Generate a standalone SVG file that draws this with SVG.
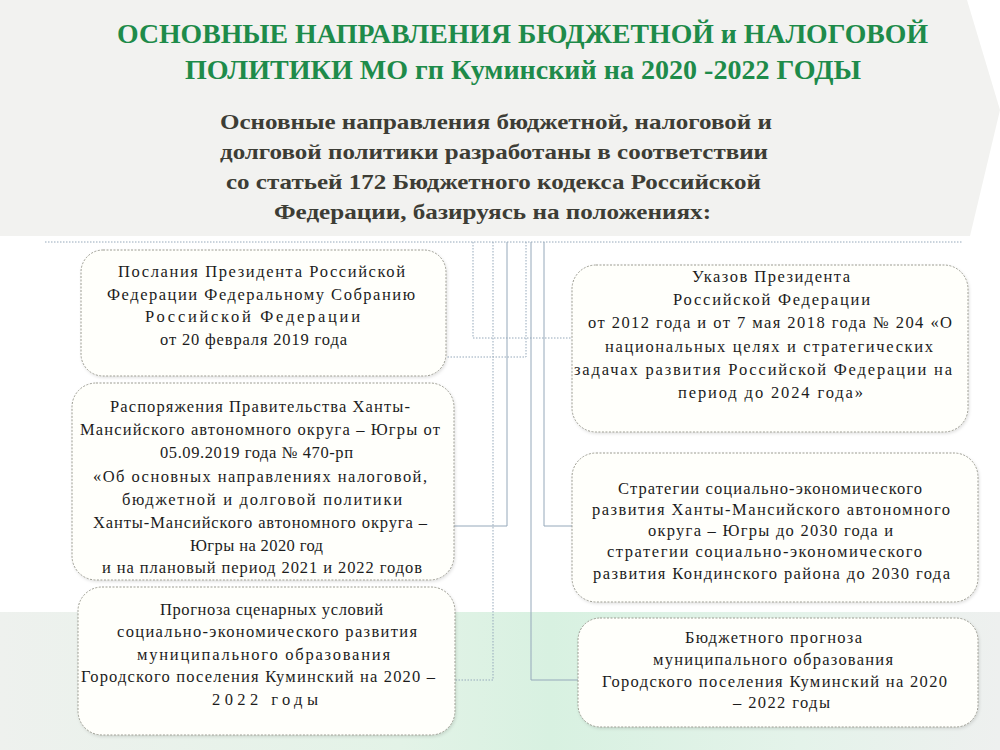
<svg xmlns="http://www.w3.org/2000/svg" width="1000" height="750" viewBox="0 0 1000 750">
<defs>
<linearGradient id="band" x1="0" y1="0" x2="1" y2="0">
<stop offset="0" stop-color="#eef1ee"/>
<stop offset="0.4" stop-color="#e3f3e7"/>
<stop offset="0.55" stop-color="#d8f1e1"/>
<stop offset="0.8" stop-color="#e4f3ea"/>
<stop offset="1" stop-color="#eef0ef"/>
</linearGradient>
<filter id="sh" x="-5%" y="-5%" width="110%" height="115%">
<feDropShadow dx="1" dy="1.5" stdDeviation="1.5" flood-color="#000" flood-opacity="0.12"/>
</filter>
<style>
.box{fill:#fffffb;stroke:#9c9c92;stroke-width:1;stroke-dasharray:2 1.5;filter:url(#sh)}
.t{font-family:"Liberation Serif","Times New Roman",serif;font-size:16.5px;fill:#1c1c1c}
.title{font-family:"Liberation Serif","Times New Roman",serif;font-weight:bold;font-size:27px;fill:#1e8b4a}
.sub{font-family:"Liberation Serif","Times New Roman",serif;font-weight:bold;font-size:21px;fill:#3d3d35}
.c{fill:none;stroke:#95a8ba;stroke-width:1}
.cd{stroke-dasharray:1.5 1.5}
</style>
</defs>
<rect x="0" y="0" width="1000" height="750" fill="#ffffff"/>
<polygon points="0,0 967,0 1000,110 970,236 0,236" fill="#f2f2f0"/>
<rect x="0" y="612" width="1000" height="138" fill="url(#band)"/>

<g id="header">
<text class="title" x="117" y="43" textLength="811" lengthAdjust="spacingAndGlyphs">ОСНОВНЫЕ НАПРАВЛЕНИЯ БЮДЖЕТНОЙ и НАЛОГОВОЙ</text>
<text class="title" x="185" y="79" textLength="676" lengthAdjust="spacingAndGlyphs">ПОЛИТИКИ  МО гп Куминский на 2020 -2022 ГОДЫ</text>
<text class="sub" x="220" y="129" textLength="552" lengthAdjust="spacingAndGlyphs">Основные направления бюджетной, налоговой и</text>
<text class="sub" x="220" y="159" textLength="548" lengthAdjust="spacingAndGlyphs">долговой политики разработаны в соответствии</text>
<text class="sub" x="226" y="189" textLength="535" lengthAdjust="spacingAndGlyphs">со статьей 172 Бюджетного кодекса Российской</text>
<text class="sub" x="274" y="219" textLength="437" lengthAdjust="spacingAndGlyphs">Федерации, базируясь на положениях:</text>
</g>

<g id="connectors">
<path class="c cd" d="M45,242 H962"/>
<path class="c cd" d="M473,242 V338 H572"/>
<path class="c cd" d="M493,242 V680 H455"/>
<path class="c" d="M507,242 V526 H454"/>
<path class="c cd" d="M526,242 V357 H446"/>
<path class="c" d="M531,242 V680 H578"/>
<path class="c" d="M544,242 V526 H572"/>
</g>

<g id="node1">
<rect class="box" x="81" y="250" width="365" height="126" rx="22"/>
<text class="t" x="118" y="277" textLength="287" lengthAdjust="spacing">Послания Президента Российской</text>
<text class="t" x="107" y="300" textLength="308" lengthAdjust="spacing">Федерации Федеральному Собранию</text>
<text class="t" x="145" y="322" textLength="215" lengthAdjust="spacing">Российской Федерации</text>
<text class="t" x="160" y="345" textLength="187" lengthAdjust="spacing">от  20 февраля 2019 года</text>
</g>

<g id="node2">
<rect class="box" x="72" y="383" width="382" height="197" rx="24"/>
<text class="t" x="110" y="412" textLength="300" lengthAdjust="spacing">Распоряжения Правительства Ханты-</text>
<text class="t" x="80" y="435" textLength="360" lengthAdjust="spacing">Мансийского  автономного округа – Югры от</text>
<text class="t" x="160" y="458" textLength="193" lengthAdjust="spacing">05.09.2019 года № 470-рп</text>
<text class="t" x="93" y="482" textLength="334" lengthAdjust="spacing">«Об основных направлениях налоговой,</text>
<text class="t" x="122" y="505" textLength="280" lengthAdjust="spacing">бюджетной и долговой политики</text>
<text class="t" x="93" y="528" textLength="334" lengthAdjust="spacing">Ханты-Мансийского автономного округа –</text>
<text class="t" x="190" y="551" textLength="133" lengthAdjust="spacing">Югры на 2020 год</text>
<text class="t" x="102" y="573" textLength="320" lengthAdjust="spacing">и на плановый период 2021 и 2022 годов</text>
</g>

<g id="node3">
<rect class="box" x="78" y="587" width="377" height="148" rx="24"/>
<text class="t" x="160" y="615" textLength="223" lengthAdjust="spacing">Прогноза сценарных условий</text>
<text class="t" x="117" y="637" textLength="300" lengthAdjust="spacing">социально-экономического развития</text>
<text class="t" x="137" y="660" textLength="253" lengthAdjust="spacing">муниципального образования</text>
<text class="t" x="81" y="682" textLength="354" lengthAdjust="spacing">Городского поселения Куминский на 2020 –</text>
<text class="t" x="212" y="705" textLength="106" lengthAdjust="spacing">2022 годы</text>
</g>

<g id="node4">
<rect class="box" x="572" y="265" width="396" height="167" rx="24"/>
<text class="t" x="692" y="282" textLength="158" lengthAdjust="spacing">Указов Президента</text>
<text class="t" x="673" y="305" textLength="197" lengthAdjust="spacing">Российской Федерации</text>
<text class="t" x="588" y="328" textLength="364" lengthAdjust="spacing">от 2012 года и от 7 мая 2018 года № 204 «О</text>
<text class="t" x="605" y="352" textLength="328" lengthAdjust="spacing">национальных целях и стратегических</text>
<text class="t" x="574" y="375" textLength="378" lengthAdjust="spacing">задачах развития Российской Федерации на</text>
<text class="t" x="678" y="398" textLength="185" lengthAdjust="spacing">период до 2024 года»</text>
</g>

<g id="node5">
<rect class="box" x="572" y="453" width="406" height="149" rx="24"/>
<text class="t" x="618" y="494" textLength="304" lengthAdjust="spacing">Стратегии социально-экономического</text>
<text class="t" x="592" y="515" textLength="358" lengthAdjust="spacing">развития Ханты-Мансийского автономного</text>
<text class="t" x="648" y="536" textLength="245" lengthAdjust="spacing">округа – Югры до 2030 года и</text>
<text class="t" x="607" y="557" textLength="315" lengthAdjust="spacing">стратегии социально-экономического</text>
<text class="t" x="593" y="579" textLength="357" lengthAdjust="spacing">развития Кондинского района до 2030 года</text>
</g>

<g id="node6">
<rect class="box" x="578" y="618" width="400" height="109" rx="22"/>
<text class="t" x="685" y="643" textLength="177" lengthAdjust="spacing">Бюджетного прогноза</text>
<text class="t" x="653" y="665" textLength="240" lengthAdjust="spacing">муниципального образования</text>
<text class="t" x="602" y="687" textLength="345" lengthAdjust="spacing">Городского поселения Куминский на 2020</text>
<text class="t" x="733" y="708" textLength="97" lengthAdjust="spacing">– 2022 годы</text>
</g>
</svg>
